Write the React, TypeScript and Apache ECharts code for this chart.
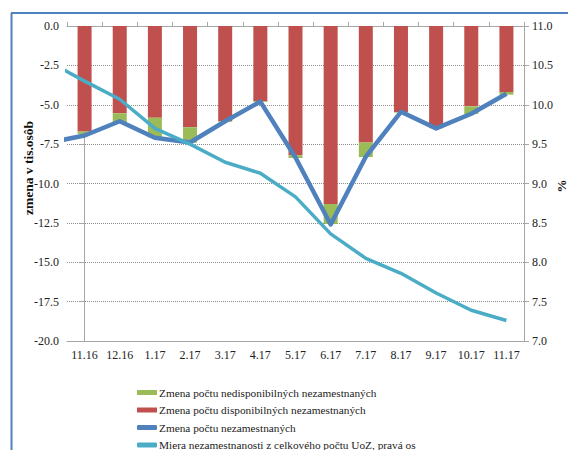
import React, { useEffect, useRef } from "react";
import * as echarts from "echarts";

const categories = ["11.16", "12.16", "1.17", "2.17", "3.17", "4.17", "5.17", "6.17", "7.17", "8.17", "9.17", "10.17", "11.17"];
// Zmena počtu disponibilných nezamestnaných (tis.)
const disposableChange = [-6.7, -5.54, -5.82, -6.43, -6.03, -4.78, -8.21, -11.3, -7.39, -5.46, -6.45, -5.1, -4.19];
// Zmena počtu nedisponibilných nezamestnaných (tis.)
const nonDisposableChange = [-0.15, -0.56, -1.25, -0.98, -0.05, -0.04, -0.17, -1.27, -0.93, -0.04, -0.04, -0.49, -0.17];
// Zmena počtu nezamestnaných (tis.)
const totalChange = [-6.95, -6.05, -7.1, -7.4, -6.05, -4.8, -8.35, -12.6, -8.3, -5.45, -6.5, -5.57, -4.3];
const totalChangePrev = -7.4; // previous month (10.16), clipped at plot edge
// Miera nezamestnanosti z celkového počtu UoZ (%)
const unemploymentRate = [10.3, 10.07, 9.7, 9.5, 9.27, 9.13, 8.83, 8.36, 8.05, 7.86, 7.61, 7.39, 7.26];
const unemploymentRatePrev = 10.54; // previous month (10.16), clipped at plot edge

const leftMin = -20, leftMax = 0, leftStep = 2.5;
const rightMin = 7, rightMax = 11, rightStep = 0.5;

const names = {
  green: "Zmena počtu nedisponibilných nezamestnaných",
  red: "Zmena počtu disponibilných nezamestnaných",
  blue: "Zmena počtu nezamestnaných",
  cyan: "Miera nezamestnanosti z celkového počtu UoZ, pravá os",
};

export default function App() {
  const ref = useRef<HTMLDivElement>(null);
  useEffect(() => {
    const chart = echarts.init(ref.current!, null, { renderer: "svg" });
    const font = "Liberation Serif, Times New Roman, serif";
    const axisColor = "#a6a6a6";
    const textColor = "#222";
    const withPrev = (arr: number[], prev: number) => [[-1, prev], ...arr.map((v, i) => [i, v])];
    const legendItems = [
      { name: names.green, icon: "rect" },
      { name: names.red, icon: "rect" },
      { name: names.blue, icon: "roundRect" },
      { name: names.cyan, icon: "roundRect" },
    ];
    const legends = legendItems.map((it, i) => ({
      orient: "horizontal",
      left: 137,
      top: 386 + i * 17.5,
      padding: 0,
      itemWidth: 20,
      itemHeight: 5,
      itemGap: 0,
      selectedMode: false,
      textStyle: { fontFamily: font, fontSize: 11.3, color: textColor, lineHeight: 13, padding: [0, 0, 0, -3] },
      data: [it],
    }));
    chart.setOption({
      animation: false,
      backgroundColor: "#fff",
      textStyle: { fontFamily: font },
      grid: { left: 67, right: 44, top: 26, bottom: 109, containLabel: false },
      legend: legends,
      xAxis: [
        {
          type: "category",
          data: categories,
          position: "bottom",
          axisLine: { show: true, onZero: false, lineStyle: { color: axisColor } },
          axisTick: { show: false },
          axisLabel: { interval: 0, color: textColor, fontSize: 12, fontFamily: font, margin: 8 },
          splitLine: { show: false },
        },
        {
          type: "category",
          data: categories,
          position: "top",
          axisLine: { show: true, onZero: false, lineStyle: { color: axisColor } },
          axisTick: { show: true, length: 4, lineStyle: { color: axisColor } },
          axisLabel: { show: false },
          splitLine: { show: false },
        },
        { type: "value", min: -0.5, max: 12.5, show: false },
      ],
      yAxis: [
        {
          type: "value",
          min: leftMin,
          max: leftMax,
          interval: leftStep,
          position: "left",
          axisLine: { show: true, lineStyle: { color: axisColor } },
          axisTick: { show: true, length: 5, lineStyle: { color: axisColor } },
          axisLabel: { color: textColor, fontSize: 12, fontFamily: font, margin: 8, formatter: (v: number) => v.toFixed(1) },
          splitLine: { show: true, lineStyle: { type: "dotted", color: "#8c8c8c", width: 1 } },
        },
        {
          type: "value",
          min: rightMin,
          max: rightMax,
          interval: rightStep,
          position: "right",
          axisLine: { show: true, lineStyle: { color: axisColor } },
          axisTick: { show: true, length: 5, lineStyle: { color: axisColor } },
          axisLabel: { color: textColor, fontSize: 12, fontFamily: font, margin: 8, formatter: (v: number) => v.toFixed(1) },
          splitLine: { show: false },
        },
      ],
      series: [
        {
          name: names.red,
          type: "bar",
          stack: "a",
          xAxisIndex: 0,
          yAxisIndex: 0,
          barWidth: 14,
          itemStyle: { color: "#c0504d" },
          data: disposableChange,
          z: 2,
        },
        {
          name: names.green,
          type: "bar",
          stack: "a",
          xAxisIndex: 0,
          yAxisIndex: 0,
          barWidth: 14,
          itemStyle: { color: "#9bbb59" },
          data: nonDisposableChange,
          z: 2,
        },
        {
          name: names.blue,
          type: "line",
          xAxisIndex: 2,
          yAxisIndex: 0,
          showSymbol: false,
          symbol: "none",
          clip: true,
          lineStyle: { color: "#4f81bd", width: 4.5, join: "round" },
          itemStyle: { color: "#4f81bd" },
          data: withPrev(totalChange, totalChangePrev),
          z: 3,
        },
        {
          name: names.cyan,
          type: "line",
          xAxisIndex: 2,
          yAxisIndex: 1,
          showSymbol: false,
          symbol: "none",
          clip: true,
          lineStyle: { color: "#4bacc6", width: 3.5, join: "round" },
          itemStyle: { color: "#4bacc6" },
          data: withPrev(unemploymentRate, unemploymentRatePrev),
          z: 4,
        },
      ],
      graphic: [
        { type: "line", shape: { x1: 11.5, y1: 13, x2: 11.5, y2: 452 }, style: { stroke: "#4f81bd", lineWidth: 2 } },
        { type: "line", shape: { x1: 11, y1: 13, x2: 570, y2: 13 }, style: { stroke: "#4f81bd", lineWidth: 2 } },
        {
          type: "text",
          x: 28,
          y: 168,
          rotation: Math.PI / 2,
          style: { text: "zmena v tis.osôb", font: `bold 13.5px ${font}`, fill: "#111", textAlign: "center", textVerticalAlign: "middle" },
        },
        {
          type: "text",
          x: 561,
          y: 186,
          rotation: Math.PI / 2,
          style: { text: "%", font: `bold 13px ${font}`, fill: "#111", textAlign: "center", textVerticalAlign: "middle" },
        },
      ],
    });
    return () => chart.dispose();
  }, []);
  return <div ref={ref} style={{ position: "fixed", left: 0, top: 0, width: 568, height: 450, background: "#fff" }} />;
}
